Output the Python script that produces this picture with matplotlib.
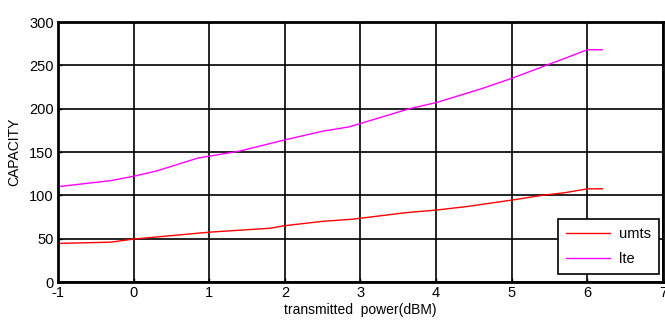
import matplotlib
matplotlib.use("Agg")
import matplotlib.pyplot as plt

# data
umts_x = [-1, -0.3, 0, 0.5, 1.0, 1.8, 2.0, 2.5, 2.9, 3.6, 4.0, 4.4, 5.0, 5.4, 5.7, 6.0, 6.2]
umts_y = [44.5, 46, 49.5, 53.5, 57.5, 62, 65, 70, 72.5, 80, 83, 87, 94.5, 100, 103, 107.5, 107.5]

lte_x = [-1, -0.3, 0, 0.3, 0.85, 1.4, 2.0, 2.5, 2.85, 3.65, 4.0, 4.6, 5.0, 5.7, 6.0, 6.2]
lte_y = [110, 117, 122, 128, 143, 151, 164, 174, 179, 200, 207, 223, 235, 258, 268, 268]

xticks = [-1, 0, 1, 2, 3, 4, 5, 6, 7]
yticks = [0, 50, 100, 150, 200, 250, 300]

plt.rcParams['font.family'] = ['Liberation Sans', 'DejaVu Sans']
plt.rcParams['axes.unicode_minus'] = False

fig = plt.figure(figsize=(6.65, 3.27), dpi=100)
ax = fig.add_axes([0.0872, 0.1376, 0.9098, 0.7951])

ax.plot(umts_x, umts_y, color='#ff0000', lw=1.0, label='umts')
ax.plot(lte_x, lte_y, color='#ff00ff', lw=1.0, label='lte')

ax.set_xlim(-1, 7)
ax.set_ylim(0, 300)
ax.set_xticks(xticks)
ax.set_yticks(yticks)
ax.grid(True, color='black', lw=1.2, ls='-')
ax.set_axisbelow(True)
for s in ax.spines.values():
    s.set_linewidth(2.0)
ax.tick_params(direction='in', length=3, labelsize=10.5, pad=3, width=1)

ax.set_xlabel('transmitted  power(dBM)', fontsize=10, labelpad=2)
ax.set_ylabel('CAPACITY', fontsize=10, labelpad=6)

leg = ax.legend(loc='lower right', bbox_to_anchor=(0.993, 0.031), borderaxespad=0,
                fancybox=False, edgecolor='black', framealpha=1, fontsize=10.5,
                handlelength=3.0, handletextpad=0.6, borderpad=0.55, labelspacing=0.75)
leg.get_frame().set_linewidth(1.2)

fig.savefig('out.png', dpi=100)
